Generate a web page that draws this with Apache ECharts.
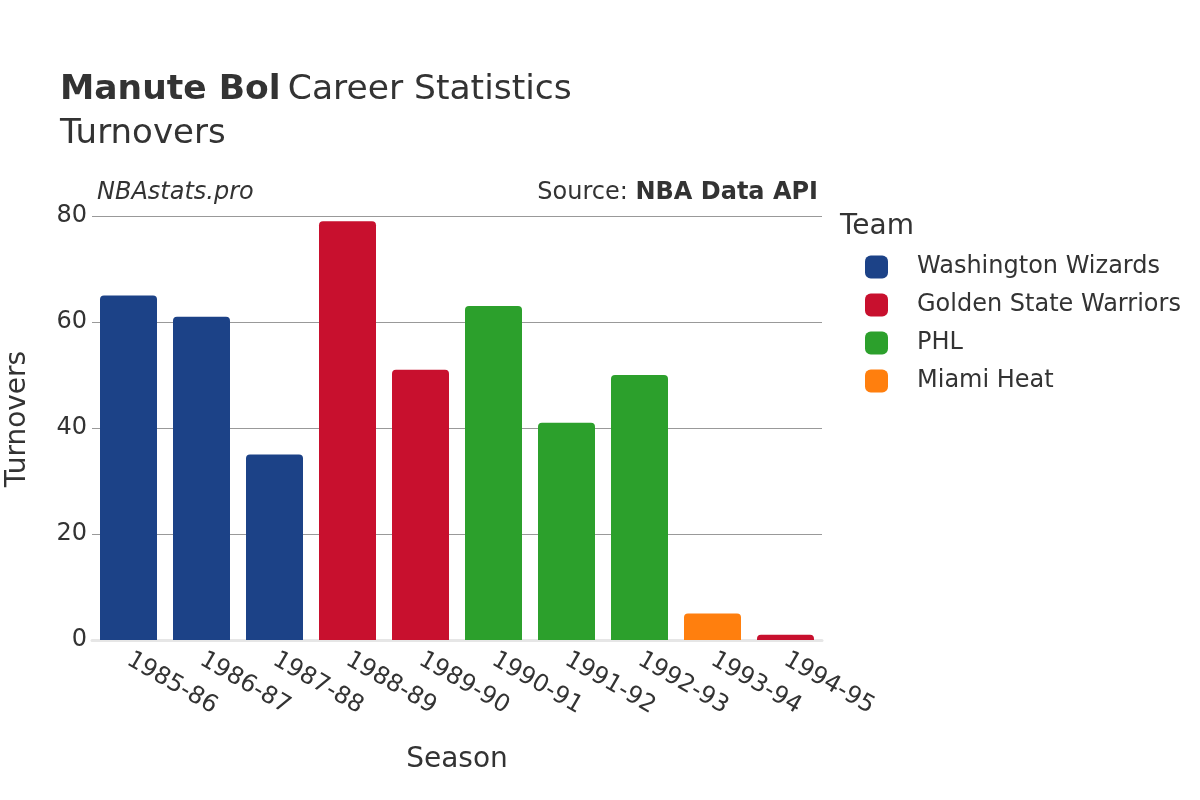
<!DOCTYPE html>
<html>
<head>
<meta charset="utf-8">
<script src="https://cdn.jsdelivr.net/npm/echarts@6/dist/echarts.min.js"></script>
<style>html,body{margin:0;padding:0;background:#fff}#c{width:1200px;height:800px}</style>
</head>
<body>
<div id="c"></div>
<script>
const seasons = ['1985-86','1986-87','1987-88','1988-89','1989-90','1990-91','1991-92','1992-93','1993-94','1994-95'];
const teamOfSeason = ['Washington Wizards','Washington Wizards','Washington Wizards','Golden State Warriors','Golden State Warriors','PHL','PHL','PHL','Miami Heat','Golden State Warriors'];
const turnovers = [65, 61, 35, 79, 51, 63, 41, 50, 5, 1];
const teams = ['Washington Wizards','Golden State Warriors','PHL','Miami Heat'];
const teamColors = ['#1c4287','#c8102e','#2ca02c','#ff7f0e'];
const yTicks = [0, 20, 40, 60, 80];

const FONT = 'DejaVu Sans';
const chart = echarts.init(document.getElementById('c'));
const series = teams.map((t, i) => ({
  name: t,
  type: 'bar',
  stack: 'all',
  barWidth: 57,
  itemStyle: { color: teamColors[i], borderRadius: [4, 4, 0, 0] },
  data: seasons.map((s, j) => teamOfSeason[j] === t ? turnovers[j] : null)
}));

chart.setOption({
  animation: false,
  textStyle: { fontFamily: FONT },
  grid: { left: 92, right: 378, top: 216, bottom: 160 },
  legend: {
    data: teams,
    orient: 'vertical',
    left: 860, top: 250,
    icon: 'roundRect',
    itemWidth: 23, itemHeight: 23, itemGap: 14,
    textStyle: { fontFamily: FONT, fontSize: 24, color: '#333', padding: [0, 0, 0, 24] }
  },
  xAxis: {
    type: 'category',
    data: seasons,
    axisLine: { show: true, lineStyle: { color: '#e6e6e6', width: 3 } },
    axisTick: { show: false },
    axisLabel: { rotate: -30, fontSize: 24, color: '#333', margin: 18, fontFamily: FONT }
  },
  yAxis: {
    type: 'value',
    min: 0, max: 80, interval: 20,
    axisLine: { show: false },
    axisTick: { show: false },
    splitLine: { lineStyle: { color: '#999', width: 1 } },
    axisLabel: { fontSize: 24, color: '#333', margin: 5, fontFamily: FONT,
      formatter: v => yTicks.includes(v) ? String(v) : '' }
  },
  series: series,
  graphic: [
    { type: 'text', left: 60, top: 73, style: { rich: { b: { fontWeight: 'bold', fontSize: 34.5, fill: '#333', fontFamily: FONT }, n: { fontSize: 34.5, fill: '#333', fontFamily: FONT, padding: [0, 0, 0, 4] } }, text: '{b|Manute Bol} {n|Career Statistics}' } },
    { type: 'text', left: 60, top: 117, style: { text: 'Turnovers', fontSize: 34, fill: '#333', fontFamily: FONT } },
    { type: 'text', left: 97, top: 181, style: { text: 'NBAstats.pro', fontSize: 24, fontStyle: 'italic', fill: '#333', fontFamily: FONT } },
    { type: 'text', right: 382, top: 181, style: { rich: { n: { fontSize: 24, fill: '#333', fontFamily: FONT }, b: { fontSize: 24, fontWeight: 'bold', fill: '#333', fontFamily: FONT } }, text: '{n|Source: }{b|NBA Data API}' } },
    { type: 'text', left: 840, top: 213, style: { text: 'Team', fontSize: 28, fill: '#333', fontFamily: FONT } },
    { type: 'text', x: 457, y: 760, style: { text: 'Season', fontSize: 28, fill: '#333', fontFamily: FONT, align: 'center', verticalAlign: 'middle' } },
    { type: 'text', x: 18, y: 419, rotation: Math.PI / 2, style: { text: 'Turnovers', fontSize: 28, fill: '#333', fontFamily: FONT, align: 'center', verticalAlign: 'middle' } }
  ]
});
</script>
</body>
</html>
